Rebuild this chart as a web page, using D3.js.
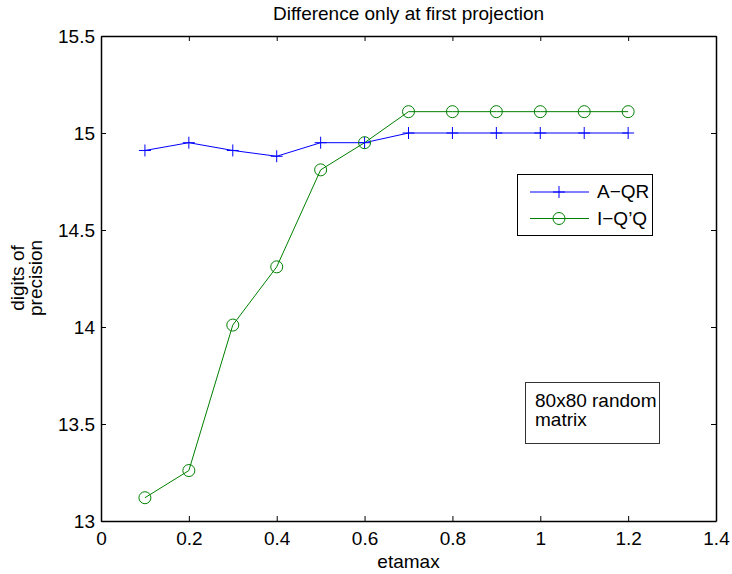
<!DOCTYPE html>
<html><head><meta charset="utf-8">
<script src="https://cdn.jsdelivr.net/npm/d3@7"></script>
<style>body{margin:0;background:#fff;} text{font-family:"Liberation Sans",Arial,sans-serif;}</style>
</head><body><svg id="c" width="732" height="574"></svg>
<script>
const etamax = [0.1,0.2,0.3,0.4,0.5,0.6,0.7,0.8,0.9,1.0,1.1,1.2];
const aqr = [14.91,14.95,14.91,14.88,14.95,14.95,15.0,15.0,15.0,15.0,15.0,15.0];
const iqq = [13.12,13.26,14.01,14.31,14.81,14.95,15.11,15.11,15.11,15.11,15.11,15.11];
const xTicks = [0,0.2,0.4,0.6,0.8,1,1.2,1.4];
const yTicks = [13,13.5,14,14.5,15,15.5];
const seriesNames = ["A\u2212QR","I\u2212Q\u2019Q"];

const svg = d3.select("#c");
const L=101,R=716,T=36,B=521;
const x = d3.scaleLinear().domain([0,1.4]).range([L,R]);
const y = d3.scaleLinear().domain([13,15.5]).range([B,T]);
const fs = 19;

// axes
const gB = svg.append("g").attr("transform",`translate(0,${B})`).call(d3.axisBottom(x).tickValues(xTicks).tickFormat(d3.format("")).tickSizeInner(-5).tickSizeOuter(0).tickPadding(11));
const gT = svg.append("g").attr("transform",`translate(0,${T})`).call(d3.axisTop(x).tickValues(xTicks).tickFormat("").tickSizeInner(-5).tickSizeOuter(0));
const gL = svg.append("g").attr("transform",`translate(${L},0)`).call(d3.axisLeft(y).tickValues(yTicks).tickFormat(d3.format("")).tickSizeInner(-5).tickSizeOuter(0).tickPadding(6));
const gR = svg.append("g").attr("transform",`translate(${R},0)`).call(d3.axisRight(y).tickValues(yTicks).tickFormat("").tickSizeInner(-5).tickSizeOuter(0));
[gB,gT,gL,gR].forEach(g=>{g.selectAll("path").attr("stroke","#000").attr("stroke-width",1.5);g.selectAll("line").attr("stroke","#000");g.selectAll("text").attr("font-size",fs).attr("fill","#000").style("font-family","Liberation Sans, Arial, sans-serif");});

// title and labels
svg.append("text").attr("x",(L+R)/2).attr("y",20).attr("text-anchor","middle").attr("font-size",fs).text("Difference only at first projection");
svg.append("text").attr("x",(L+R)/2).attr("y",568).attr("text-anchor","middle").attr("font-size",fs).text("etamax");
const yl = svg.append("text").attr("transform","translate(24,278) rotate(-90)").attr("text-anchor","middle").attr("font-size",fs);
yl.append("tspan").attr("x",0).attr("dy",0).text("digits of");
yl.append("tspan").attr("x",0).attr("dy",18).text("precision");

const line = d3.line().x(d=>x(d[0])).y(d=>y(d[1]));
const blue="#0000ff", green="#008000";
const dA = etamax.map((e,i)=>[e,aqr[i]]);
const dI = etamax.map((e,i)=>[e,iqq[i]]);

svg.append("path").datum(dA).attr("d",line).attr("fill","none").attr("stroke",blue).attr("stroke-width",1);
svg.append("path").datum(dI).attr("d",line).attr("fill","none").attr("stroke",green).attr("stroke-width",1);

const plus = (g,cx,cy,col)=>{g.append("path").attr("d",`M${cx-6},${cy}H${cx+6}M${cx},${cy-6}V${cy+6}`).attr("stroke",col).attr("stroke-width",1).attr("fill","none");};
dA.forEach(d=>plus(svg,x(d[0]),y(d[1]),blue));
svg.selectAll("circle.m").data(dI).enter().append("circle").attr("cx",d=>x(d[0])).attr("cy",d=>y(d[1])).attr("r",6).attr("fill","none").attr("stroke",green).attr("stroke-width",1);

// legend
const lg = svg.append("g");
lg.append("rect").attr("x",517.5).attr("y",174.5).attr("width",135).attr("height",61).attr("fill","#fff").attr("stroke","#000").attr("stroke-width",1);
lg.append("line").attr("x1",530).attr("x2",589).attr("y1",192).attr("y2",192).attr("stroke",blue);
plus(lg,559,192,blue);
lg.append("line").attr("x1",530).attr("x2",589).attr("y1",218.5).attr("y2",218.5).attr("stroke",green);
lg.append("circle").attr("cx",559).attr("cy",218.5).attr("r",6).attr("fill","none").attr("stroke",green);
lg.append("text").attr("x",597).attr("y",198).attr("font-size",fs).text(seriesNames[0]);
lg.append("text").attr("x",597).attr("y",225).attr("font-size",fs).text(seriesNames[1]);

// text box
const tb = svg.append("g");
tb.append("rect").attr("x",525.5).attr("y",382.5).attr("width",134).attr("height",61).attr("fill","#fff").attr("stroke","#333").attr("stroke-width",1);
tb.append("text").attr("x",535).attr("y",407).attr("font-size",fs).text("80x80 random");
tb.append("text").attr("x",535).attr("y",426).attr("font-size",fs).text("matrix");
</script></body></html>
